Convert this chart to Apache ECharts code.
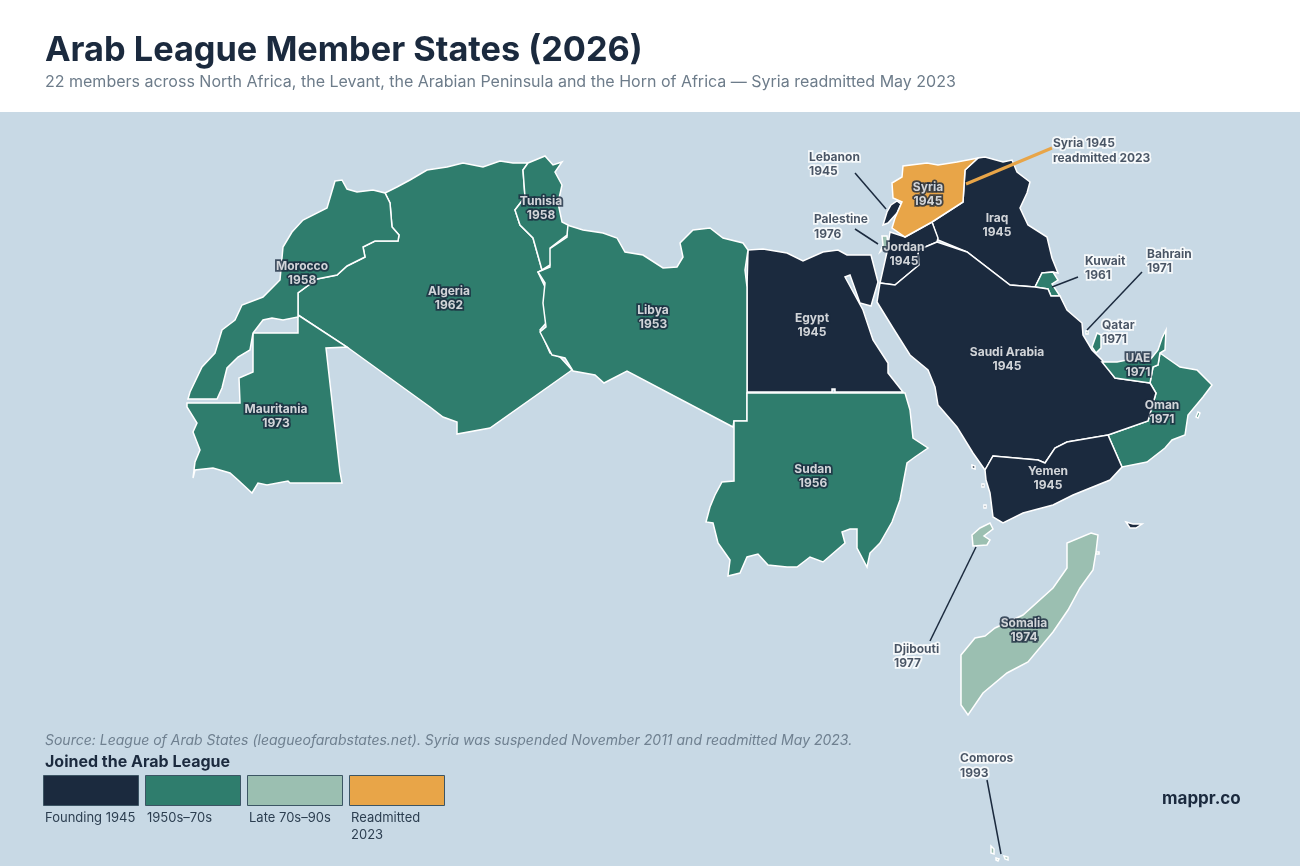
<!DOCTYPE html>
<html>
<head>
<meta charset="utf-8">
<title>Arab League Member States (2026)</title>
<script src="https://cdn.jsdelivr.net/npm/echarts@6/dist/echarts.min.js"></script>
<style>
	html, body { margin: 0; padding: 0; background: #fff; }
	#chart { width: 1300px; height: 866px; }
</style>
</head>
<body>
<div id="chart"></div>
<script>
// members
var memberNames = ['Algeria', 'Bahrain', 'Comoros', 'Djibouti', 'Egypt', 'Iraq', 'Jordan', 'Kuwait', 'Lebanon', 'Libya', 'Mauritania', 'Morocco', 'Oman', 'Palestine', 'Qatar', 'Saudi Arabia', 'Somalia', 'Sudan', 'Syria', 'Tunisia', 'UAE', 'Yemen'];
var joinYears = [1962, 1971, 1993, 1977, 1945, 1945, 1945, 1961, 1945, 1953, 1973, 1958, 1971, 1976, 1971, 1945, 1974, 1956, 1945, 1958, 1971, 1945];
// index into legendLabels / legendColors
var memberGroups = [1, 1, 2, 2, 0, 0, 0, 1, 0, 1, 1, 1, 1, 2, 1, 0, 2, 1, 3, 1, 1, 0];

var legendLabels = ['Founding 1945', '1950s–70s', 'Late 70s–90s', 'Readmitted\n2023'];
var legendColors = ['#1b2a3e', '#2f7d6d', '#9bbfb1', '#e8a548'];

// outlines, traced by hand. map units are the pixels of the 1300x866 page
var outlines = {
	'Morocco': [[[335,181],[342,180],[347,189],[357,192],[373,190],[385,193],[390,203],[392,227],[399,235],[398,241],[375,241],[363,247],[365,257],[347,266],[337,275],[317,279],[298,293],[298,317],[283,320],[272,318],[263,320],[253,333],[250,350],[238,357],[227,368],[222,388],[217,399],[188,399],[190,392],[202,367],[215,353],[222,330],[235,320],[242,305],[263,297],[280,280],[283,247],[292,232],[303,220],[327,208]]],
	'Algeria': [[[385,193],[397,187],[410,180],[427,170],[447,167],[463,163],[483,167],[500,161],[513,163],[528,163],[523,170],[525,197],[515,210],[520,225],[533,238],[542,270],[538,272],[545,287],[547,322],[540,330],[550,353],[560,357],[572,370],[490,428],[457,434],[457,422],[443,417],[430,407],[347,347],[298,315],[298,293],[317,279],[337,275],[347,266],[365,257],[363,247],[375,241],[398,241],[399,235],[392,227],[390,203]]],
	'Mauritania': [[[253,333],[298,333],[298,315],[347,347],[326,348],[340,472],[342,483],[290,483],[288,481],[267,485],[258,483],[252,493],[238,480],[230,473],[213,468],[195,470],[193,478],[195,462],[200,450],[193,432],[197,423],[187,407],[187,403],[240,403],[239,378],[253,372]]],
	'Tunisia': [[[528,163],[545,156],[553,165],[562,162],[555,172],[562,185],[558,203],[562,222],[568,225],[567,235],[550,248],[550,265],[542,270],[533,238],[520,225],[515,210],[525,197],[523,170]]],
	'Libya': [[[567,225],[583,230],[603,233],[617,238],[625,252],[643,255],[663,268],[677,267],[683,257],[680,243],[693,230],[710,228],[723,238],[743,243],[748,250],[745,270],[747,287],[747,421],[734,421],[733,427],[627,371],[604,383],[595,375],[573,371],[565,358],[552,355],[540,332],[546,327],[543,303],[545,283],[538,272],[550,267],[548,250],[567,237]]],
	'Egypt': [[[748,250],[763,249],[787,253],[803,261],[823,252],[838,250],[847,255],[871,255],[878,282],[871,306],[860,303],[850,275],[845,277],[863,310],[873,340],[888,363],[888,373],[903,392],[835,392],[835,389],[832,389],[832,392],[747,392],[747,287]]],
	'Sudan': [[[747,393],[905,393],[910,410],[913,438],[928,448],[915,457],[907,463],[900,500],[892,522],[880,543],[870,553],[867,567],[857,548],[857,529],[850,529],[842,532],[845,543],[823,562],[810,557],[797,567],[787,567],[768,565],[758,554],[747,557],[740,573],[728,576],[730,560],[718,543],[713,523],[706,522],[710,507],[715,495],[722,482],[734,481],[734,421],[747,421]]],
	'Syria': [[[978,158],[957,162],[938,165],[927,163],[903,166],[902,177],[892,183],[893,198],[902,202],[895,218],[892,228],[905,237],[932,222],[963,202],[965,170]]],
	'Iraq': [[[978,158],[985,157],[1003,162],[1012,160],[1017,172],[1030,182],[1027,193],[1020,208],[1028,225],[1047,237],[1052,258],[1058,273],[1053,272],[1042,273],[1035,287],[1010,285],[967,252],[938,240],[932,222],[963,202],[965,170]]],
	'Jordan': [[[905,237],[932,222],[938,238],[937,242],[918,250],[919,265],[907,275],[895,285],[880,283],[887,252],[890,232]]],
	'Saudi Arabia': [[[880,283],[895,285],[907,275],[919,265],[918,250],[937,242],[967,252],[1010,285],[1035,287],[1048,289],[1051,296],[1060,296],[1067,310],[1082,323],[1083,335],[1092,350],[1102,360],[1115,378],[1150,383],[1156,393],[1148,421],[1108,435],[1067,442],[1055,448],[1045,463],[1038,460],[993,456],[985,470],[973,453],[957,427],[938,405],[935,387],[928,370],[910,355],[893,328],[877,302]]],
	'Yemen': [[[985,470],[993,456],[1038,460],[1045,463],[1055,448],[1067,442],[1108,435],[1122,467],[1110,480],[1073,495],[1053,505],[1023,513],[1003,523],[993,517],[990,493],[986,480]], [[1126,522],[1133,524],[1142,524],[1136,528],[1130,528]], [[972,465],[975,466],[975,469],[972,468]], [[982,484],[984,484],[984,487],[982,487]], [[984,505],[986,505],[986,508],[984,508]]],
	'Oman': [[[1108,435],[1148,421],[1156,393],[1150,383],[1153,367],[1158,365],[1160,353],[1167,358],[1180,367],[1197,370],[1212,385],[1203,397],[1188,415],[1185,435],[1172,440],[1165,448],[1147,462],[1122,467]], [[1198,412],[1200,413],[1198,418],[1196,417]]],
	'UAE': [[[1102,362],[1117,362],[1127,360],[1150,360],[1158,350],[1162,338],[1166,330],[1165,350],[1160,353],[1158,365],[1153,367],[1150,383],[1115,378]]],
	'Kuwait': [[[1035,287],[1042,273],[1053,272],[1058,280],[1052,284],[1060,296],[1051,296],[1048,289]]],
	'Qatar': [[[1097,333],[1101,335],[1101,348],[1096,353],[1092,347]]],
	'Bahrain': [[[1086,331],[1088,331],[1088,334],[1086,334]]],
	'Lebanon': [[[897,201],[901,204],[897,213],[888,223],[883,225],[887,212],[891,205]]],
	'Palestine': [[[882,236],[887,236],[888,245],[880,252],[883,245]]],
	'Djibouti': [[[990,523],[993,529],[984,536],[990,540],[987,545],[973,546],[972,535],[980,528]]],
	'Somalia': [[[1091,533],[1098,535],[1096,552],[1093,570],[1080,588],[1068,610],[1053,632],[1028,662],[1007,673],[983,693],[968,715],[961,705],[961,655],[975,638],[985,636],[995,628],[1023,615],[1053,588],[1067,568],[1067,543]], [[1096,552],[1099,552],[1099,554],[1096,554]]],
	'Comoros': [[[991,846],[994,849],[994,854],[991,853]], [[996,858],[999,859],[998,861],[996,860]], [[1004,856],[1008,857],[1008,860],[1005,859]]]
};

// where each label sits, on the page
var centerLabels = {
	'Syria': [928,194.5], 'Iraq': [997,225.5], 'Jordan': [904,254.5], 'Saudi Arabia': [1007,359.5], 'Egypt': [812,325.5],
	'Libya': [653,317.5], 'Algeria': [449,298.5], 'Tunisia': [541,208.5], 'Morocco': [302,273.5], 'Mauritania': [276,416.5],
	'Sudan': [813,476.5], 'Yemen': [1048,478.5], 'Oman': [1162,412.5], 'UAE': [1138,365.5], 'Somalia': [1024,630.5]
};
var sideLabels = {
	'Lebanon': [809,164.5], 'Palestine': [814,227], 'Kuwait': [1085,268.5], 'Bahrain': [1147,261.5],
	'Qatar': [1102,332.5], 'Djibouti': [894,656.5], 'Comoros': [960,766]
};
var leaderLines = [
	[[855,173],[886,209]],
	[[855,229],[878,244]],
	[[1078,277],[1052,287]],
	[[1142,272],[1087,330]],
	[[976,547],[930,641]],
	[[987,780],[1001,854]]
];
var syriaLeader = [[1052,148],[966,184]];

var NAVY = legendColors[0], FONT = 'Inter, "Noto Sans", sans-serif';

var geoJson = {
	type: 'FeatureCollection',
	features: memberNames.map(function (name) {
		return {
			type: 'Feature',
			properties: { name: name },
			geometry: { type: 'MultiPolygon', coordinates: outlines[name].map(function (ring) { return [ring]; }) }
		};
	})
};
echarts.registerMap('arabLeague', geoJson);

function yearOf(name) {
	return joinYears[memberNames.indexOf(name)];
}
function labelData(anchors) {
	return Object.keys(anchors).map(function (name) {
		return { name: name + '\n' + yearOf(name), value: anchors[name] };
	});
}
// the stroke is painted over the letters, so the halo gets its own layer underneath
function labelSeries(data, color, halo, inside) {
	var label = {
		show: true, position: inside ? 'inside' : 'right', distance: 0, formatter: '{b}',
		fontFamily: FONT, fontSize: 12, fontWeight: 700, lineHeight: 14.5, color: color,
		textBorderWidth: 0, align: inside ? 'center' : 'left', verticalAlign: 'middle'
	};
	if (halo) {
		label.color = halo;
		label.textBorderColor = halo;
		label.textBorderWidth = 3.5;
	}
	return { type: 'scatter', coordinateSystem: 'geo', silent: true, symbolSize: 0, z: halo ? 5 : 6, zlevel: halo ? 0 : 1, label: label, data: data };
}

// legend swatches and captions
var legendGraphic = [];
legendLabels.forEach(function (label, i) {
	var x = 43 + i * 102;
	legendGraphic.push({
		type: 'rect', shape: { x: x + 0.5, y: 775.5, width: 95, height: 30 },
		style: { fill: legendColors[i], stroke: '#3c5564', lineWidth: 1 }, z: 10
	});
	legendGraphic.push({
		type: 'text', x: x + 2, y: 810,
		style: { text: label, fill: '#2c3e50', font: '13px ' + FONT, lineHeight: 16.5 }, z: 10
	});
});

var insideData = labelData(centerLabels);
var outsideData = labelData(sideLabels).concat([{ name: 'Syria 1945\nreadmitted 2023', value: [1053, 151] }]);

var myChart = echarts.init(document.getElementById('chart'), null, { renderer: 'canvas' });
myChart.setOption({
	animation: false,
	backgroundColor: '#c8d9e5',
	graphic: [
		{ type: 'rect', shape: { x: 0, y: 0, width: 1300, height: 112 }, style: { fill: '#fff' }, z: 0 }
	].concat(legendGraphic),
	title: [
		{ text: 'Arab League Member States (2026)', left: 40, top: 29, textStyle: { fontFamily: FONT, fontSize: 34.3, fontWeight: 700, color: NAVY } },
		{ text: '22 members across North Africa, the Levant, the Arabian Peninsula and the Horn of Africa — Syria readmitted May 2023', left: 40, top: 69, textStyle: { fontFamily: FONT, fontSize: 16, fontWeight: 400, color: '#6d7c8a' } },
		{ text: 'Source: League of Arab States (leagueofarabstates.net). Syria was suspended November 2011 and readmitted May 2023.', left: 40, top: 729, textStyle: { fontFamily: FONT, fontSize: 14, fontWeight: 400, fontStyle: 'italic', color: '#6f8090' } },
		{ text: 'Joined the Arab League', left: 40, top: 749, textStyle: { fontFamily: FONT, fontSize: 16, fontWeight: 700, color: NAVY } },
		{ text: 'mappr.co', left: 1157, top: 785, textStyle: { fontFamily: FONT, fontSize: 17, fontWeight: 700, color: NAVY } }
	],
	geo: {
		map: 'arabLeague',
		projection: {
			project: function (p) { return p; },
			unproject: function (p) { return p; }
		},
		boundingCoords: [[0, 0], [1300, 866]],
		aspectScale: 1,
		left: 0, top: 0, width: 1300, height: 866,
		roam: false,
		silent: true,
		label: { show: false },
		itemStyle: { areaColor: NAVY, borderColor: '#fff', borderWidth: 1.5 },
		regions: memberNames.map(function (name, i) {
			return { name: name, itemStyle: { areaColor: legendColors[memberGroups[i]] } };
		})
	},
	series: [
		{
			type: 'lines', coordinateSystem: 'geo', silent: true, z: 3,
			lineStyle: { color: NAVY, width: 1.5, opacity: 1 },
			data: leaderLines.map(function (line) { return { coords: line }; })
		},
		{
			type: 'lines', coordinateSystem: 'geo', silent: true, z: 3,
			lineStyle: { color: legendColors[3], width: 3, opacity: 1 },
			data: [{ coords: syriaLeader }]
		},
		labelSeries(insideData, '#fff', NAVY, true),
		labelSeries(outsideData, NAVY, '#fff', false),
		labelSeries(insideData, '#fff', null, true),
		labelSeries(outsideData, NAVY, null, false)
	]
});
window.onresize = function () {
	myChart.resize();
};
</script>
</body>
</html>
